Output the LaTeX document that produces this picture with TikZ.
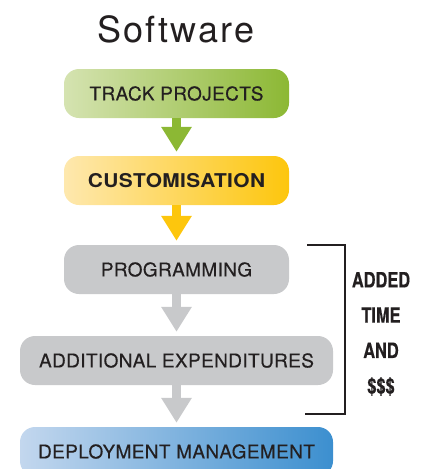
\documentclass[tikz,border=0pt]{standalone}
\usepackage{fontspec}
\usetikzlibrary{arrows.meta}

\setmainfont{TeX Gyre Heros}
\newfontfamily\boxfont[LetterSpace=2, FakeBold=0.3]{TeX Gyre Heros}
\newfontfamily\widefont[FakeStretch=1.1, LetterSpace=2]{TeX Gyre Heros}
\newfontfamily\narrowfont[FakeStretch=0.78, FakeBold=0.4]{TeX Gyre Heros}

\definecolor{ink}{HTML}{231F20}
\definecolor{greenL}{HTML}{D5E3B1}
\definecolor{greenR}{HTML}{8CB834}
\definecolor{yellowL}{HTML}{FEE8AE}
\definecolor{yellowR}{HTML}{FDC60D}
\definecolor{greyBox}{HTML}{C8C9CB}
\definecolor{blueL}{HTML}{C3D7EE}
\definecolor{blueR}{HTML}{3C8FCF}

\begin{document}
\begin{tikzpicture}[x=1pt, y=-1pt,
	stage/.style={rounded corners=15pt, minimum height=49pt, inner sep=0pt, text=ink,
		font=\boxfont\fontsize{19}{19}\selectfont},
	flow/.style={line width=9pt, shorten >=4pt, -{Triangle[width=29pt,length=25pt]}}]
	\useasboundingbox (0,0) rectangle (422,469);
	\clip (0,0) rectangle (422,469);

	\node[anchor=base, text=ink, font=\fontsize{36}{36}\selectfont\addfontfeature{LetterSpace=6}] (title) at (176,42) {Software};

	\node[stage, minimum width=225pt, left color=greenL, right color=greenR] (track) at (176.5,93.5) {TRACK PROJECTS};
	\node[stage, minimum width=225pt, left color=yellowL, right color=yellowR,
		font=\widefont\bfseries\fontsize{19}{19}\selectfont] (custom) at (176.5,180.5) {CUSTOMISATION};
	\node[stage, minimum width=225pt, fill=greyBox] (prog) at (176.5,269.5) {PROGRAMMING};
	\node[stage, minimum width=313pt, fill=greyBox] (expend) at (176.5,360.5) {ADDITIONAL EXPENDITURES};
	\node[stage, minimum width=313pt, left color=blueL, right color=blueR] (deploy) at (176.5,451.5) {DEPLOYMENT MANAGEMENT};

	\draw[flow, greenR] (track) -- (custom);
	\draw[flow, yellowR] (custom) -- (prog);
	\draw[flow, greyBox] (prog) -- (expend);
	\draw[flow, greyBox] (expend) -- (deploy);

	% bracket round the extra steps
	\coordinate (brtop) at (307,245);
	\coordinate (brbot) at (305,414);
	\draw[ink, line width=1.6pt] (brtop) -- (345,245) |- (brbot);

	\node[align=center, text=ink, font=\narrowfont\bfseries\fontsize{21}{35.3}\selectfont] (added) at (381,334) {ADDED\\TIME\\AND\\\$\$\$};
\end{tikzpicture}
\end{document}
